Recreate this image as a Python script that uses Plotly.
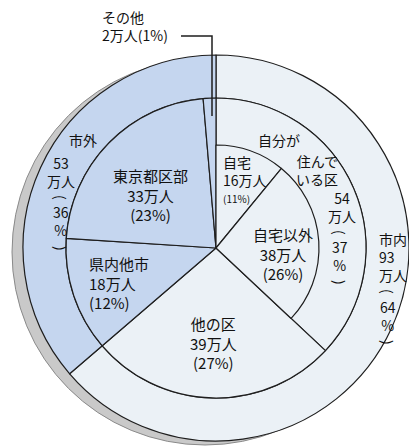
import plotly.graph_objects as go

# ---- data ----
outer_labels = ["市内", "市外"]
outer_values = [93, 53]
middle_labels = ["自分が住んでいる区", "他の区", "県内他市", "東京都区部", "その他"]
middle_values = [54, 39, 18, 33, 2]
inner_labels = ["自宅", "自宅以外", ""]
inner_values = [16, 38, 92]

LIGHT = "#ebf1f6"
BLUE = "#c5d6ef"
LINE = "#1e1e1e"
TXT = "#111111"
W, H = 409, 448
CX, CY = 216, 248
R_OUT, R_MID, R_IN = 193, 150, 103
FONT = "Noto Sans CJK JP, Noto Sans, sans-serif"


def dom(r, cx=CX, cy=CY):
    return dict(x=[(cx - r) / W, (cx + r) / W], y=[1 - (cy + r) / H, 1 - (cy - r) / H])


def px(x, y):
    return x / W, 1 - y / H


fig = go.Figure()
fig.add_trace(go.Pie(
    labels=outer_labels, values=outer_values, domain=dom(R_OUT), hole=R_MID / R_OUT,
    sort=False, direction="clockwise", rotation=0, textinfo="none", hoverinfo="label+value",
    marker=dict(colors=[LIGHT, BLUE], line=dict(color=LINE, width=1.2)), showlegend=False))
fig.add_trace(go.Pie(
    labels=middle_labels, values=middle_values, domain=dom(R_MID),
    sort=False, direction="clockwise", rotation=0, textinfo="none", hoverinfo="label+value",
    marker=dict(colors=[LIGHT, LIGHT, BLUE, BLUE, BLUE], line=dict(color=LINE, width=1.2)),
    showlegend=False))
fig.add_trace(go.Pie(
    labels=inner_labels, values=inner_values, domain=dom(R_IN),
    sort=False, direction="clockwise", rotation=0, textinfo="none", hoverinfo="skip",
    marker=dict(colors=[LIGHT, LIGHT, "rgba(0,0,0,0)"],
                line=dict(color=[LINE, LINE, "rgba(0,0,0,0)"], width=[1.2, 1.2, 0])),
    showlegend=False))

# 3D-like grey rim behind the disc
sx, sy = CX - 11, CY + 4
fig.add_shape(type="circle", xref="paper", yref="paper", layer="below",
              x0=(sx - R_OUT) / W, x1=(sx + R_OUT) / W,
              y0=1 - (sy + R_OUT) / H, y1=1 - (sy - R_OUT) / H,
              fillcolor="#c9c9c9", line=dict(color="#8a8a8a", width=1))

# leader line for その他
x1, y1 = px(181, 36)
x2, y2 = px(212, 36)
x3, y3 = px(212, 116)
fig.add_shape(type="path", xref="paper", yref="paper",
              path=f"M {x1} {y1} L {x2} {y2} L {x3} {y3}",
              line=dict(color=LINE, width=1.5))


def ann(x, y, text, size=15, align="center", xanchor="center", yanchor="middle", angle=0):
    ax, ay = px(x, y)
    fig.add_annotation(x=ax, y=ay, xref="paper", yref="paper", text=text, showarrow=False,
                       align=align, xanchor=xanchor, yanchor=yanchor, textangle=angle,
                       font=dict(family=FONT, size=size, color=TXT))


def paren(x, y, ch):
    ann(x, y, ch, size=14, angle=90)


ann(100, 5, "その他<br>2万人(1%)", size=14, align="left", xanchor="left", yanchor="top")
# 市外 block
ann(83, 140, "市外", size=14)
ann(61, 172, "53<br>万人", size=14)
paren(61, 197, "(")
ann(61, 221, "36<br>%", size=14)
paren(61, 248, ")")
# 東京都区部
ann(150, 163, "東京都区部<br>33万人<br>(23%)", yanchor="top")
# 自宅
ann(221, 171, "自宅<br>16万人", size=14, align="left", xanchor="left")
ann(221, 198, "(11%)", size=10, xanchor="left")
# 自分が住んでいる区
ann(279, 140, "自分が", size=14)
ann(340, 170, "住んで<br>いる区", size=14, align="right", xanchor="right")
ann(342, 207, "54<br>万人", size=14)
paren(340, 232, "(")
ann(340, 256, "37<br>%", size=14)
paren(340, 282, ")")
# 自宅以外
ann(283, 222, "自宅以外<br>38万人<br>(26%)", yanchor="top")
# 市内 block
ann(377, 257, "市内<br>93<br>万人", size=14, align="left", xanchor="left")
paren(388, 291, "(")
ann(388, 316, "64<br>%", size=14)
paren(388, 342, ")")
# 県内他市, 他の区
ann(87, 251, "県内他市<br>18万人<br>(12%)", align="left", xanchor="left", yanchor="top")
ann(213, 311, "他の区<br>39万人<br>(27%)", yanchor="top")

fig.update_layout(width=W, height=H, margin=dict(l=0, r=0, t=0, b=0),
                  paper_bgcolor="white", plot_bgcolor="white", showlegend=False)
fig.write_html("out.html")
